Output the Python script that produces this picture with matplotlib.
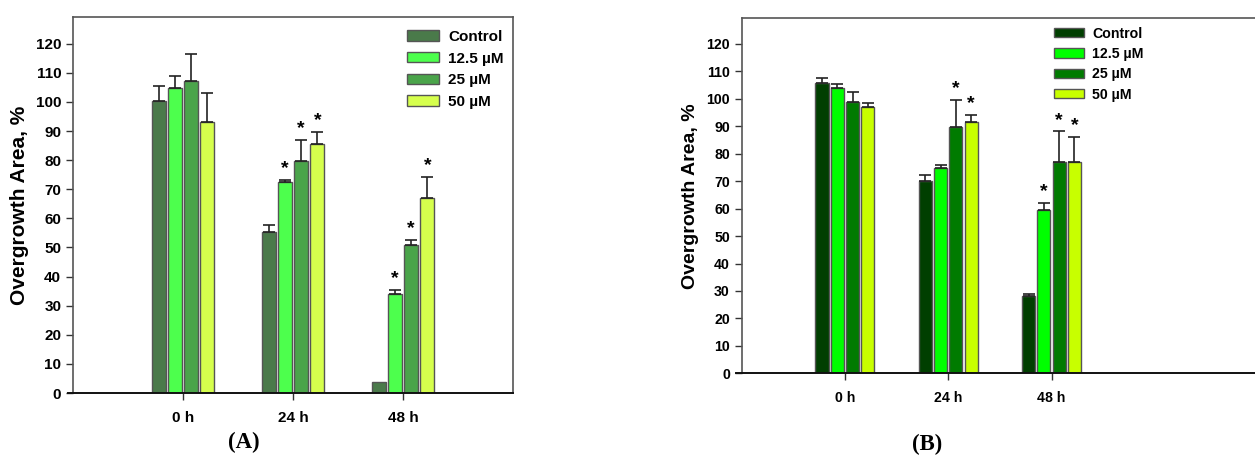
import numpy as np
import matplotlib
matplotlib.use("Agg")
import matplotlib.pyplot as plt
from matplotlib.lines import Line2D

plt.rcParams["font.family"] = ["Liberation Sans", "DejaVu Sans"]

# ── Data ──────────────────────────────────────────────────────────────────────

times  = ["0 h", "24 h", "48 h"]
groups = ["Control", "12.5 \u00b5M", "25 \u00b5M", "50 \u00b5M"]

# Panel A
a_mean = [
    [100.5, 55.4,  3.7],   # Control
    [104.9, 72.4, 33.9],   # 12.5 uM
    [107.3, 79.8, 50.9],   # 25 uM
    [ 93.0, 85.5, 66.9],   # 50 uM
]
a_err = [
    [4.9, 2.3, 0.0],
    [4.1, 0.7, 1.4],
    [9.3, 7.1, 1.6],
    [10.0, 4.2, 7.3],
]
a_star = [
    [False, False, False],
    [False, True,  True],
    [False, True,  True],
    [False, True,  True],
]
a_colors = ["#4a7a4a", "#4dff4d", "#4aa44a", "#d6ff4d"]

# Panel B
b_mean = [
    [105.8, 69.9, 28.0],
    [104.0, 74.9, 59.5],
    [ 98.7, 89.8, 76.9],
    [ 97.0, 91.5, 76.9],
]
b_err = [
    [1.8, 2.2, 0.9],
    [1.5, 1.1, 2.6],
    [3.6, 9.7, 11.2],
    [1.3, 2.7, 9.1],
]
b_star = [
    [False, False, False],
    [False, False, True],
    [False, True,  True],
    [False, True,  True],
]
b_colors = ["#003f00", "#00ff00", "#007b00", "#c8ff00"]

yticks = list(range(0, 121, 10))

# ── Drawing ───────────────────────────────────────────────────────────────────

def draw_panel(ax, means, errs, stars, colors, xmax, leg_anchor, fs,
               right_spine=True):
    tick_fs, label_fs, leg_fs, leg_space = fs
    x = np.arange(1, len(times) + 1)
    step  = 0.148
    width = 0.127
    for i, (m, e, s, c) in enumerate(zip(means, errs, stars, colors)):
        pos = x + (i - 1.5) * step
        ax.bar(pos, m, width=width, color=c, edgecolor="#555555", lw=1.0,
               label=groups[i], zorder=2)
        for p, mv, ev, sv in zip(pos, m, e, s):
            if ev > 0:
                ax.errorbar(p, mv, yerr=[[0], [ev]], fmt="none", ecolor="#222222",
                            elinewidth=1.2, capsize=4.5, capthick=1.2, zorder=3)
            if sv:
                ax.text(p, mv + ev + 1.0, "*", ha="center", va="bottom",
                        fontsize=14, fontweight="bold")

    ax.set_xlim(0, xmax)
    ax.set_ylim(0, 129.2)
    ax.set_xticks(x)
    ax.set_xticklabels(times, fontsize=tick_fs, fontweight="bold")
    ax.set_yticks(yticks)
    ax.set_yticklabels([str(t) for t in yticks], fontsize=tick_fs, fontweight="bold")
    ax.tick_params(axis="both", direction="out", length=5, width=1, color="#333333")
    ax.tick_params(axis="x", pad=8)
    ax.set_ylabel("Overgrowth Area, %", fontsize=label_fs, fontweight="bold",
                  labelpad=5)

    for name in ["left", "top", "right"]:
        ax.spines[name].set_color("#555555")
        ax.spines[name].set_linewidth(1.2)
    ax.spines["right"].set_visible(right_spine)
    ax.spines["bottom"].set_color("#111111")
    ax.spines["bottom"].set_linewidth(1.4)
    # x axis line runs a little past the left spine, like the original
    ax.add_line(Line2D([-0.012, 0], [0, 0], transform=ax.transAxes,
                       color="#111111", lw=1.4, clip_on=False))

    leg = ax.legend(loc="upper left", bbox_to_anchor=leg_anchor, frameon=False,
                    prop={"size": leg_fs, "weight": "bold"}, handlelength=2.1,
                    handleheight=0.65, handletextpad=0.6, labelspacing=leg_space,
                    borderaxespad=0)
    return leg


fig = plt.figure(figsize=(12.55, 4.61), dpi=100)

ax_a = fig.add_axes([0.0582, 0.1475, 0.3506, 0.8156])
draw_panel(ax_a, a_mean, a_err, a_star, a_colors, 4.0, (0.745, 0.982),
           (11, 15, 11, 0.5))

ax_b = fig.add_axes([0.591, 0.190, 0.409, 0.770])
draw_panel(ax_b, b_mean, b_err, b_star, b_colors, 4.97, (0.597, 0.993),
           (10.2, 14, 10.2, 0.45), right_spine=False)

fig.text(0.194, 0.04, "(A)", ha="center", va="center", fontsize=16.5,
         fontweight="bold", family=["Liberation Serif", "DejaVu Serif"])
fig.text(0.739, 0.035, "(B)", ha="center", va="center", fontsize=16.5,
         fontweight="bold", family=["Liberation Serif", "DejaVu Serif"])

fig.savefig("out.png", dpi=100, facecolor="white")
